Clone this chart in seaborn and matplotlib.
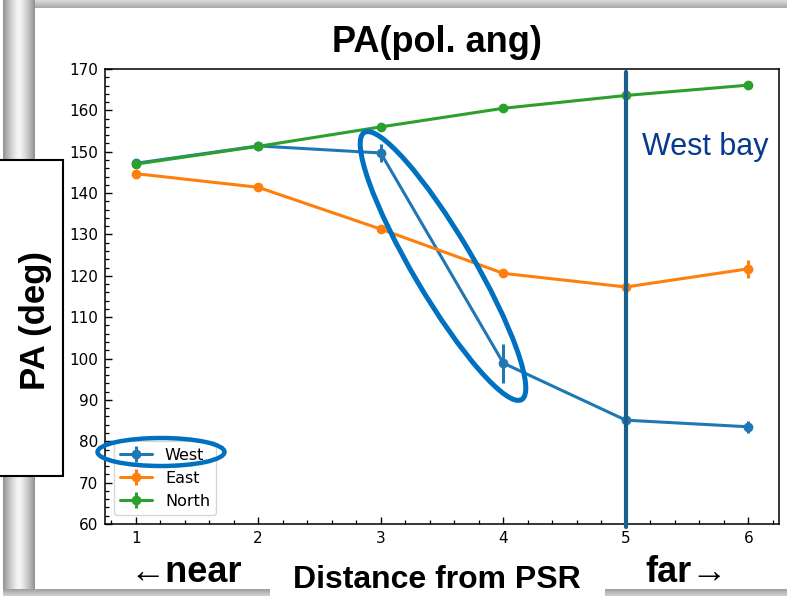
import numpy as np
import matplotlib
matplotlib.use("Agg")
import matplotlib.pyplot as plt
from matplotlib.patches import Ellipse, Rectangle
import seaborn as sns

# ---------------- data ----------------
distance = [1, 2, 3, 4, 5, 6]
west = [147.2, 151.4, 149.7, 98.9, 85.1, 83.5]
west_err = [0.4, 0.4, 2.2, 4.7, 0.4, 1.5]
east = [144.7, 141.4, 131.3, 120.6, 117.3, 121.7]
east_err = [0.4, 0.4, 0.5, 1.0, 0.4, 2.2]
north = [147.0, 151.3, 156.0, 160.5, 163.6, 166.1]
north_err = [0.3, 0.3, 0.4, 0.4, 0.4, 0.4]
series_names = ["West", "East", "North"]
xticks = [1, 2, 3, 4, 5, 6]
yticks = list(range(60, 171, 10))

# ---------------- style ----------------
sns.set_style("ticks", {"xtick.direction": "in", "ytick.direction": "in"})
plt.rcParams["font.family"] = ["DejaVu Sans"]
plt.rcParams["text.color"] = "black"
plt.rcParams["axes.labelcolor"] = "black"
plt.rcParams["xtick.color"] = "black"
plt.rcParams["ytick.color"] = "black"
palette = sns.color_palette("tab10", 3)

W, H = 787, 596
fig = plt.figure(figsize=(W / 100, H / 100), dpi=100)
fig.patch.set_facecolor("white")

# background (slide frame)
bg = fig.add_axes([0, 0, 1, 1], zorder=-10)
bg.set_xlim(0, W); bg.set_ylim(H, 0); bg.axis("off")
xs = np.linspace(-1, 1, 64)
vgrad = 0.97 - 0.40 * np.abs(xs) ** 1.3
bg.imshow(vgrad[None, :], cmap="gray", vmin=0, vmax=1, aspect="auto",
          extent=(3, 35, H, 0), interpolation="bilinear", zorder=1)
tg = np.linspace(0.86, 0.66, 16)
bg.imshow(tg[:, None], cmap="gray", vmin=0, vmax=1, aspect="auto",
          extent=(35, W, 8, 0), interpolation="bilinear", zorder=1)
bgrad = np.linspace(0.62, 0.82, 16)
bg.imshow(bgrad[:, None], cmap="gray", vmin=0, vmax=1, aspect="auto",
          extent=(3, 270, H, 589), interpolation="bilinear", zorder=1)
bg.imshow(bgrad[:, None], cmap="gray", vmin=0, vmax=1, aspect="auto",
          extent=(605, W, H, 589), interpolation="bilinear", zorder=1)
bg.add_patch(Rectangle((-5, 160), 68, 316, facecolor="white",
                       edgecolor="black", lw=1.5, zorder=3))
bg.text(36, 320, "PA (deg)", rotation=90, ha="center", va="center",
        fontsize=25, fontweight="bold", color="black",
        family=["Liberation Sans", "DejaVu Sans"], zorder=4)

# ---------------- main axes ----------------
ax = fig.add_axes([105 / W, 1 - 524 / H, (779 - 105) / W, (524 - 69) / H], zorder=1)
ax.set_facecolor("white")
for name, vals, errs, col in zip(series_names, [west, east, north],
                                 [west_err, east_err, north_err], palette):
    ax.errorbar(distance, vals, yerr=errs, fmt="-o", color=col, lw=2.2,
                ms=6, elinewidth=2.2, capsize=0, label=name)

ax.set_xlim(0.75, 6.25)
ax.set_ylim(60, 170)
ax.set_xticks(xticks)
ax.set_yticks(yticks)
ax.xaxis.set_minor_locator(matplotlib.ticker.MultipleLocator(0.2))
ax.yaxis.set_minor_locator(matplotlib.ticker.MultipleLocator(2))
ax.tick_params(axis="both", which="major", direction="in", length=5, width=1,
               labelsize=11, pad=5, colors="black")
ax.tick_params(axis="both", which="minor", direction="in", length=3, width=0.9,
               colors="black")
for s in ax.spines.values():
    s.set_visible(True)
    s.set_linewidth(1.1)
    s.set_color("black")

ax.axvline(5, ymin=-0.0066, ymax=0.993, color="#1b5f8c", lw=3, clip_on=False, zorder=5)

leg = ax.legend(loc="lower left", fontsize=11.5, frameon=True, handlelength=2.0,
                borderaxespad=0.55, labelspacing=0.5)
for t in leg.get_texts():
    t.set_color("black")

# ---------------- overlay annotations ----------------
ov = fig.add_axes([0, 0, 1, 1], zorder=10)
ov.set_xlim(0, W); ov.set_ylim(H, 0); ov.axis("off")
ov.patch.set_alpha(0)
fam = ["Liberation Sans", "DejaVu Sans"]
ov.text(437, 42, "PA(pol. ang)", ha="center", va="center", fontsize=26,
        fontweight="bold", color="black", family=fam)
ov.text(437, 580, "Distance from PSR", ha="center", va="center", fontsize=23,
        fontweight="bold", color="black", family=fam)
ov.text(130, 582, "\u2190near", ha="left", va="baseline", fontsize=26,
        fontweight="bold", color="black", family=fam)
ov.text(645, 582, "far\u2192", ha="left", va="baseline", fontsize=26,
        fontweight="bold", color="black", family=fam)
ov.text(642, 155, "West bay", ha="left", va="baseline", fontsize=22,
        color="#073a8f", family=fam)
ov.add_patch(Ellipse((443, 266), 310, 60, angle=59.5, fill=False,
                     edgecolor="#0070c0", lw=3.6))
ov.add_patch(Ellipse((161, 452), 127, 28, angle=0, fill=False,
                     edgecolor="#0070c0", lw=3.2))

fig.savefig("out.png", dpi=100)
